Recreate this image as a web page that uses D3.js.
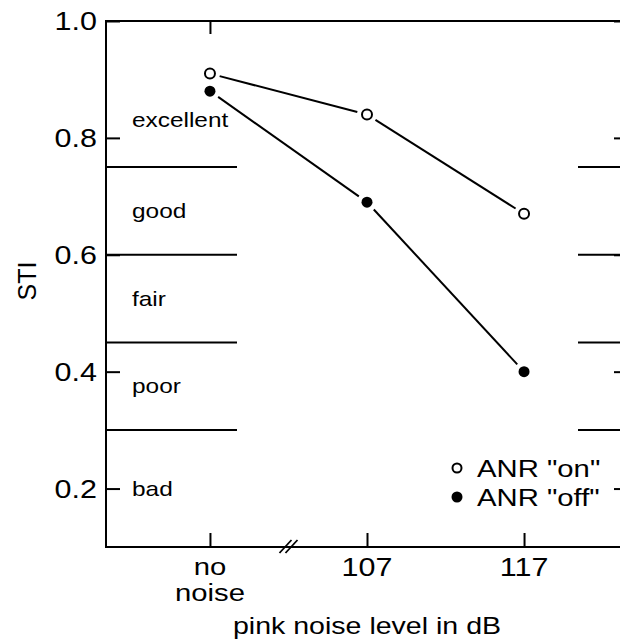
<!DOCTYPE html>
<html><head><meta charset="utf-8">
<script src="https://cdn.jsdelivr.net/npm/d3@7"></script>
<style>body{margin:0;background:#fff}svg{display:block}text{font-family:"Liberation Sans",Arial,sans-serif;fill:#000}</style>
</head><body><svg id="c" width="620" height="641"></svg>
<script>
// ---- data ----
const categories = ["no noise", "107", "117"];
const anrOn  = [0.91, 0.84, 0.67];
const anrOff = [0.88, 0.69, 0.40];
const yTicks = [0.2, 0.4, 0.6, 0.8, 1.0];
const bandBounds = [0.75, 0.6, 0.45, 0.3];
const bandNames = ["excellent", "good", "fair", "poor", "bad"];
const bandLabelAt = [0.83, 0.675, 0.525, 0.375, 0.2];
const seriesNames = ['ANR "on"', 'ANR "off"'];

const svg = d3.select("#c");
const x = d3.scalePoint().domain(categories).range([106, 628]).padding(0.662);
const y = d3.scaleLinear().domain([0.1, 1.0]).range([547, 21]);
const SX = 1.22;
function txt(g, px, py, s, size, anchor) {
  const t = g.append("text").attr("transform", `translate(${px},${py}) scale(${SX},1)`)
    .attr("font-size", size).attr("text-anchor", anchor || "start").text(s);
  return t;
}
const L = x.range()[0], R = x.range()[1];

// left axis
const yAxisL = d3.axisRight(y).tickValues(yTicks).tickSize(14).tickFormat("");
const gl = svg.append("g").attr("transform", `translate(${L},0)`).call(yAxisL);
gl.select(".domain").remove();
gl.selectAll(".tick line").attr("stroke", "#000").attr("stroke-width", 2);
// right axis
const yAxisR = d3.axisLeft(y).tickValues(yTicks).tickSize(14).tickFormat("");
const gr = svg.append("g").attr("transform", `translate(${R},0)`).call(yAxisR);
gr.select(".domain").remove();
gr.selectAll(".tick line").attr("stroke", "#000").attr("stroke-width", 2);
// bottom ticks
const xAxisB = d3.axisTop(x).tickSize(14).tickFormat("");
const gb = svg.append("g").attr("transform", `translate(0,${y(0.1)})`).call(xAxisB);
gb.select(".domain").remove();
gb.selectAll(".tick line").attr("stroke", "#000").attr("stroke-width", 2);
// top tick only at first category
const gt = svg.append("g").attr("transform", `translate(0,${y(1.0)})`)
  .call(d3.axisBottom(x).tickValues([categories[0]]).tickSize(13).tickFormat(""));
gt.select(".domain").remove();
gt.selectAll(".tick line").attr("stroke", "#000").attr("stroke-width", 2);

// frame lines
svg.append("line").attr("x1", L).attr("x2", L).attr("y1", y(1.0)-1).attr("y2", y(0.1)+1).attr("stroke", "#000").attr("stroke-width", 2);
svg.append("line").attr("x1", L).attr("x2", R).attr("y1", y(1.0)).attr("y2", y(1.0)).attr("stroke", "#000").attr("stroke-width", 2);
svg.append("line").attr("x1", L).attr("x2", R).attr("y1", y(0.1)).attr("y2", y(0.1)).attr("stroke", "#000").attr("stroke-width", 2);
svg.append("line").attr("x1", R).attr("x2", R).attr("y1", y(1.0)).attr("y2", y(0.1)).attr("stroke", "#000").attr("stroke-width", 2);

// axis break
const bx = (x(categories[0]) + x(categories[1])) / 2, by = y(0.1);
[-3, 3].forEach(o => svg.append("line").attr("x1", bx + o - 6).attr("y1", by + 6).attr("x2", bx + o + 6).attr("y2", by - 7)
  .attr("stroke", "#000").attr("stroke-width", 1.8));

// band lines
bandBounds.forEach(b => {
  svg.append("line").attr("x1", L).attr("x2", 237).attr("y1", y(b)).attr("y2", y(b)).attr("stroke", "#000").attr("stroke-width", 2);
  svg.append("line").attr("x1", 578).attr("x2", R).attr("y1", y(b)).attr("y2", y(b)).attr("stroke", "#000").attr("stroke-width", 2);
});
bandNames.forEach((n, i) => txt(svg, 132, y(bandLabelAt[i]) + 7, n, 20));

// y tick labels
yTicks.forEach(v => txt(svg, 97, y(v) + 9, v.toFixed(1), 25, "end"));
// x tick labels
categories.forEach(c => {
  const cx = x(c);
  if (c === "no noise") {
    txt(svg, cx, 575, "no", 24, "middle");
    txt(svg, cx, 601, "noise", 24, "middle");
  } else txt(svg, cx, 576, c, 25, "middle");
});
// axis titles
txt(svg, (L + R) / 2, 634, "pink noise level in dB", 23.4, "middle");
svg.append("text").attr("transform", `translate(36,281) rotate(-90)`).attr("font-size", 25).attr("text-anchor", "middle").text("STI");

// series lines with gaps
function drawSeries(vals, filled) {
  const pts = vals.map((v, i) => [x(categories[i]), y(v)]);
  for (let i = 0; i < pts.length - 1; i++) {
    const [x1, y1] = pts[i], [x2, y2] = pts[i + 1];
    const d = Math.hypot(x2 - x1, y2 - y1), ux = (x2 - x1) / d, uy = (y2 - y1) / d, g = 10;
    svg.append("line").attr("x1", x1 + ux * g).attr("y1", y1 + uy * g).attr("x2", x2 - ux * g).attr("y2", y2 - uy * g)
      .attr("stroke", "#000").attr("stroke-width", 2);
  }
  svg.selectAll(null).data(pts).enter().append("circle").attr("cx", d => d[0]).attr("cy", d => d[1])
    .attr("r", filled ? 5.5 : 5).attr("fill", filled ? "#000" : "#fff").attr("stroke", "#000").attr("stroke-width", filled ? 0 : 2);
}
drawSeries(anrOn, false);
drawSeries(anrOff, true);

// legend
seriesNames.forEach((n, i) => {
  const ly = 468 + i * 29;
  svg.append("circle").attr("cx", 457).attr("cy", ly).attr("r", i ? 5.5 : 4.5)
    .attr("fill", i ? "#000" : "#fff").attr("stroke", "#000").attr("stroke-width", i ? 0 : 2);
  txt(svg, 477, ly + 9, n, 24);
});
</script></body></html>
